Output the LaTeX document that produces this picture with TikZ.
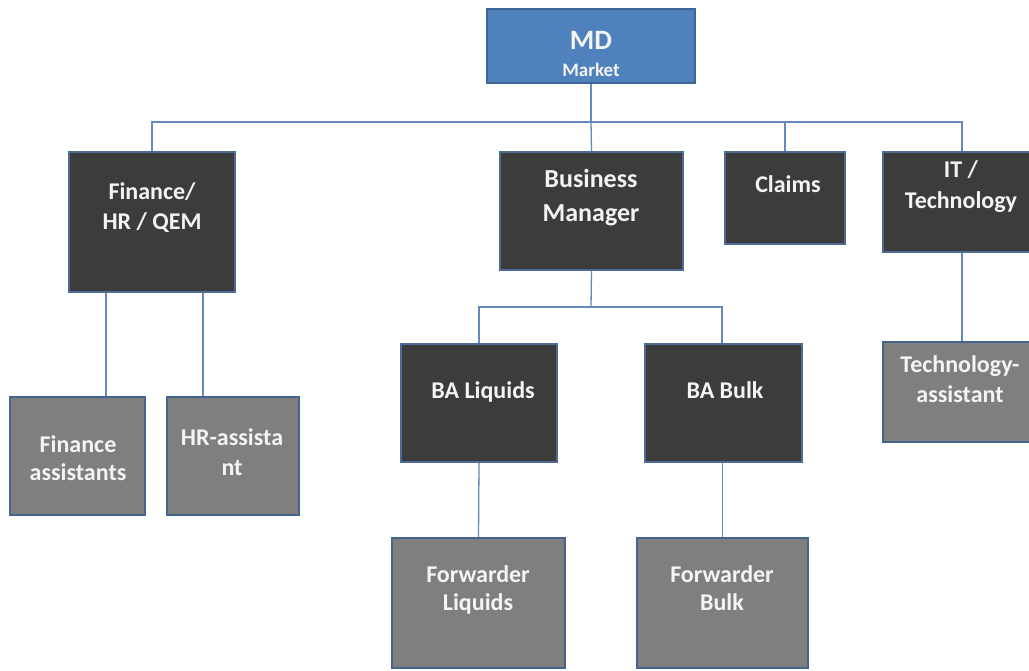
\documentclass[tikz,border=0pt]{standalone}
\usepackage{fontspec}
\setmainfont{Carlito}
\definecolor{mdfill}{HTML}{4F81BD}
\definecolor{mdline}{HTML}{3E6596}
\definecolor{darkfill}{HTML}{3C3C3C}
\definecolor{darkline}{HTML}{4C6C96}
\definecolor{greyfill}{HTML}{7F7F7F}
\definecolor{greyline}{HTML}{45648D}
\definecolor{connline}{HTML}{6389BD}
\definecolor{txt}{HTML}{F4F4F4}
\begin{document}
\begin{tikzpicture}[x=1pt,y=-1pt,
  box/.style={rectangle,line width=2pt,inner sep=0pt,minimum width=#1},
  dbox/.style={fill=darkfill,draw=darkline},
  gbox/.style={fill=greyfill,draw=greyline},
  mdbox/.style={fill=mdfill,draw=mdline},
  conn/.style={draw=connline,line width=1.3pt},
  lbl/.style={text=txt,inner sep=0pt,align=center,font=\bfseries\fontsize{24}{30}\selectfont},
  lbl28/.style={lbl,font=\bfseries\fontsize{24}{28}\selectfont},
  lbl31/.style={lbl,font=\bfseries\fontsize{24}{31}\selectfont},
  lblbm/.style={lbl,font=\bfseries\fontsize{26}{34}\selectfont}
]
\useasboundingbox (0,0) rectangle (1029,671);
\clip (0,0) rectangle (1029,671);
\fill[white] (0,0) rectangle (1029,671);

% boxes
\node[box=208pt,minimum height=74pt,mdbox] (md) at (591,46) {};
\node[box=166pt,minimum height=140pt,dbox] (fin) at (152,222) {};
\node[box=183pt,minimum height=118pt,dbox] (bm) at (591.5,211) {};
\node[box=120pt,minimum height=92pt,dbox] (cl) at (785,198) {};
\node[box=158pt,minimum height=100pt,dbox] (it) at (962,202) {};
\node[box=158pt,minimum height=100pt,gbox] (ta) at (962,392) {};
\node[box=135pt,minimum height=118pt,gbox] (fa) at (77.5,456) {};
\node[box=132pt,minimum height=118pt,gbox] (hra) at (233,456) {};
\node[box=156pt,minimum height=118pt,dbox] (bal) at (479,403) {};
\node[box=157pt,minimum height=118pt,dbox] (bab) at (723.5,403) {};
\node[box=173pt,minimum height=130pt,gbox] (fl) at (478.5,603) {};
\node[box=171pt,minimum height=130pt,gbox] (fb) at (722.5,603) {};

% connectors
\coordinate (bus) at (591,122);
\coordinate (sub) at (591,307);
\draw[conn] (md.south) -- (bus);
\draw[conn] (fin.north) |- (bus) -| (it.north);
\draw[conn] (bus) -- (bm.north);
\draw[conn] (cl.north) -- (cl.north |- bus);
\draw[conn] ([xshift=38pt]fin.south west) -- ([xshift=38pt]fin.south west |- fa.north);
\draw[conn] ([xshift=-33pt]fin.south east) -- ([xshift=-33pt]fin.south east |- hra.north);
\draw[conn] (bm.south) -- (sub);
\draw[conn] (bal.north) |- (sub) -| ([xshift=-1.5pt]bab.north);
\draw[conn] (bal.south) -- (fl.north);
\draw[conn] ([xshift=-1pt]bab.south) -- ([xshift=-1pt]bab.south |- fb.north);
\draw[conn] (it.south) -- (ta.north);

% texts
\node[text=txt,inner sep=0pt,anchor=base,font=\bfseries\fontsize{28}{32}\selectfont] (mdt) at (591,50) {MD};
\node[text=txt,inner sep=0pt,anchor=base,font=\bfseries\fontsize{19}{22}\selectfont] (mdm) at (591,77) {Market};
\node[lbl] (fint) at (152,209) {Finance/\strut\\HR / QEM\strut};
\node[lblbm] (bmt) at (591,198.2) {Business\strut\\Manager\strut};
\node[lbl,anchor=base] (clt) at (788,193) {Claims};
\node[lbl31] (itt) at (961,187.3) {IT /\strut\\Technology\strut};
\node[lbl] (tat) at (960,381) {Technology-\strut\\assistant\strut};
\node[lbl28] (fat) at (78,460.4) {Finance\strut\\assistants\strut};
\node[lbl] (hrat) at (232,454) {HR-assista\strut\\nt\strut};
\node[lbl,anchor=base] (balt) at (483,398) {BA Liquids};
\node[lbl,anchor=base] (babt) at (725,398) {BA Bulk};
\node[lbl28] (flt) at (478,590.4) {Forwarder\strut\\Liquids\strut};
\node[lbl28] (fbt) at (722,590.4) {Forwarder\strut\\Bulk\strut};
\end{tikzpicture}
\end{document}
